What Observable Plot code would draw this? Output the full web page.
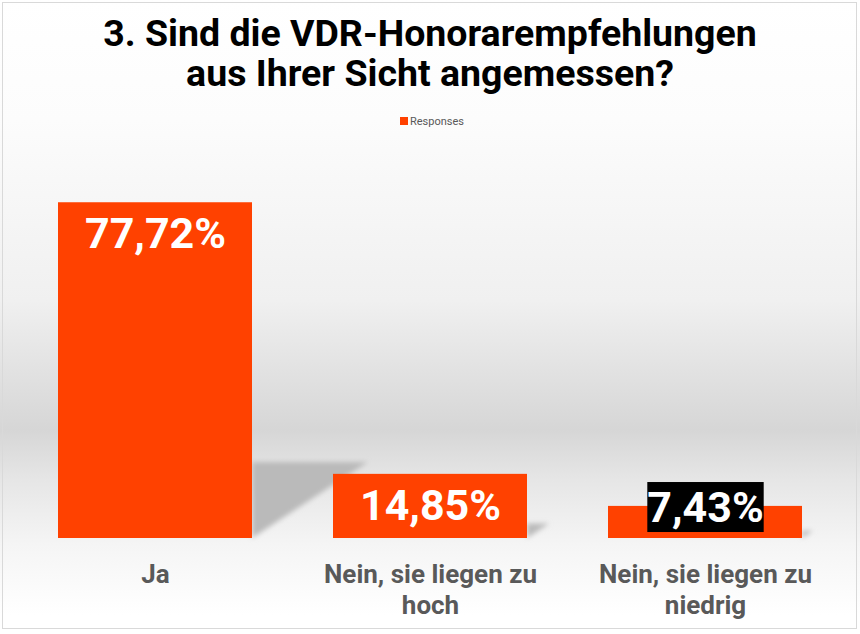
<!DOCTYPE html>
<html><head><meta charset="utf-8">
<script src="https://cdn.jsdelivr.net/npm/d3@7"></script>
<script src="https://cdn.jsdelivr.net/npm/@observablehq/plot@0.6"></script>
<style>
html,body{margin:0;padding:0;background:#fff;}
#wrap{position:relative;width:860px;height:634px;overflow:hidden;font-family:Roboto,sans-serif;
background:linear-gradient(to bottom,#ffffff 0px,#fcfcfc 120px,#f0f0f0 300px,#d6d6d6 430px,#e6e6e6 480px,#f5f5f5 545px,#ffffff 615px);}
#frame{position:absolute;left:2px;top:2px;width:853px;height:625px;border:1px solid #d9d9d9;pointer-events:none;}
.tl{position:absolute;left:0;width:860px;text-align:center;font-weight:700;font-size:37.5px;line-height:41px;color:#000;white-space:nowrap;}
#legend{position:absolute;top:115px;left:0;width:860px;text-align:center;font-size:11px;color:#595959;line-height:14px;}
#legend i{display:inline-block;width:8px;height:8px;background:#ff4100;margin-right:2px;margin-left:4px;vertical-align:0px;}
#chart{position:absolute;left:0;top:0;}
</style>
</head><body>
<div id="wrap">
  <div class="tl" id="t1" style="top:13px">3. Sind die VDR-Honorarempfehlungen</div>
  <div class="tl" id="t2" style="top:53px">aus Ihrer Sicht angemessen?</div>
  <div id="legend"><i></i><span id="legtext"></span></div>
  <div id="chart"></div>
  <div id="frame"></div>
</div>
<script>
const categories = ["Ja", "Nein, sie liegen zu hoch", "Nein, sie liegen zu niedrig"];
const tickLabels = ["Ja", "Nein, sie liegen zu\nhoch", "Nein, sie liegen zu\nniedrig"];
const values = [77.72, 14.85, 7.43];
const valueLabels = ["77,72%", "14,85%", "7,43%"];
const seriesName = "Responses";

document.getElementById("legtext").textContent = seriesName;

const data = categories.map((c, i) => ({cat: c, value: values[i], label: valueLabels[i]}));
const barColor = "#ff4100";

const plot = Plot.plot({
  width: 860,
  height: 634,
  marginTop: 106,
  marginBottom: 96,
  marginLeft: 0,
  marginRight: 0,
  style: {background: "transparent", fontFamily: "Roboto, sans-serif", color: "#595959", overflow: "visible"},
  x: {domain: categories, paddingInner: 0.293, paddingOuter: 0.2045, align: 0.5, axis: null},
  y: {domain: [0, 100], axis: null},
  marks: [
    Plot.barY(data, {x: "cat", y: "value", fill: barColor}),
    Plot.axisX({
      label: null,
      tickSize: 0,
      tickPadding: 22,
      tickFormat: d => tickLabels[categories.indexOf(d)],
      fontSize: 26,
      fontWeight: 700,
      lineHeight: 1.21,
      fill: "#595959"
    }),
    Plot.text(data, {
      x: "cat",
      y: d => Math.max(d.value - 7.3, 7.0),
      text: "label",
      fill: "white",
      fontSize: 43,
      fontWeight: 700
    })
  ]
});
document.getElementById("chart").appendChild(plot);

// shadows derived from scales
const xs = plot.scale("x"), ys = plot.scale("y");
const ns = "http://www.w3.org/2000/svg";
const defs = document.createElementNS(ns, "defs");
defs.innerHTML = '<filter id="shblur" x="-20%" y="-20%" width="140%" height="140%"><feGaussianBlur stdDeviation="2.5"/></filter>';
plot.insertBefore(defs, plot.firstChild.nextSibling);
const shg = document.createElementNS(ns, "g");
shg.setAttribute("filter", "url(#shblur)");
data.forEach(d => {
  const right = xs.apply(d.cat) + xs.bandwidth;
  const base = ys.apply(0), top = ys.apply(d.value);
  const h = base - top;
  const p = document.createElementNS(ns, "polygon");
  p.setAttribute("points", `${right},${base - 0.226*h} ${right + 0.345*h},${base - 0.226*h} ${right},${base}`);
  p.setAttribute("fill", "#bababa");
  shg.appendChild(p);
});
plot.insertBefore(shg, defs.nextSibling);

// black background box behind the short-bar label
const texts = plot.querySelectorAll('g[aria-label="text"] text');
const t3 = texts[2];
if (t3) {
  const bb = t3.getBBox();
  const r = document.createElementNS(ns, "rect");
  r.setAttribute("x", bb.x); r.setAttribute("y", bb.y);
  r.setAttribute("width", bb.width); r.setAttribute("height", bb.height);
  r.setAttribute("fill", "#000");
  const tr = t3.getAttribute("transform");
  if (tr) r.setAttribute("transform", tr);
  t3.parentNode.insertBefore(r, t3);
}
</script>
</body></html>
